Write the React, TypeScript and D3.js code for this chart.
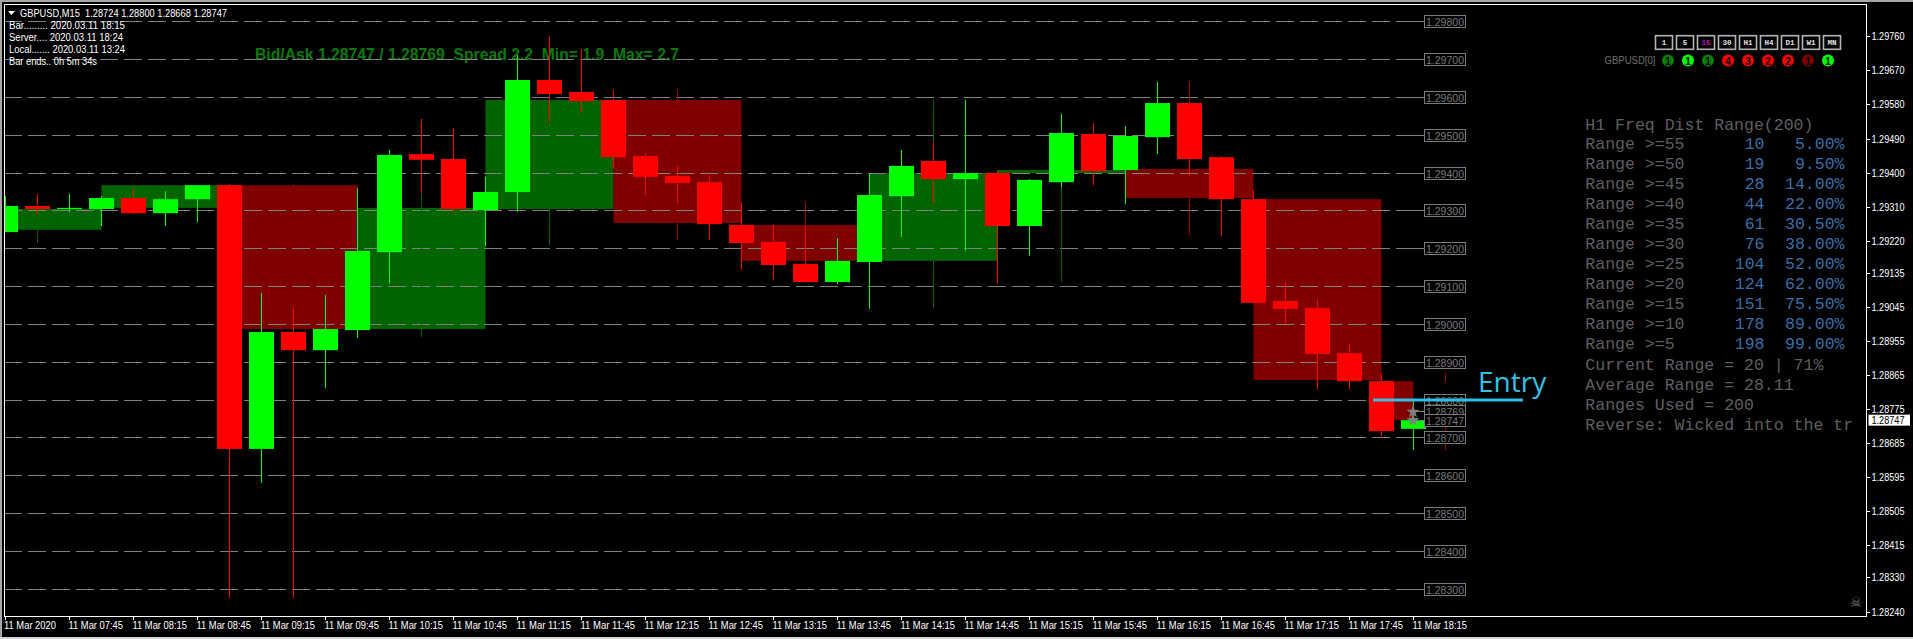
import React from "react";
import * as d3 from "d3";

const W = 1913, H = 639;
// M15 candles, first bar 07:15
const opens = [1.29244,1.29313,1.29305,1.29305,1.29334,1.29294,1.29331,1.29368,1.28671,1.28980,1.28932,1.28985,1.29191,1.29450,1.29437,1.29302,1.29350,1.29646,1.29614,1.29593,1.29445,1.29392,1.29376,1.29263,1.29218,1.29160,1.29112,1.29165,1.29339,1.29432,1.29384,1.29400,1.29260,1.29376,1.29503,1.29408,1.29495,1.29585,1.29442,1.29331,1.29062,1.29043,1.28924,1.28850,1.28724];
const highs = [1.29339,1.29345,1.29345,1.29339,1.29360,1.29352,1.29368,1.29371,1.29083,1.29046,1.29078,1.29360,1.29461,1.29543,1.29519,1.29390,1.29712,1.29760,1.29728,1.29620,1.29453,1.29419,1.29395,1.29321,1.29263,1.29255,1.29228,1.29398,1.29461,1.29482,1.29593,1.29408,1.29384,1.29556,1.29532,1.29524,1.29641,1.29585,1.29445,1.29355,1.29112,1.29065,1.28948,1.28869,1.28800];
const lows = [1.29244,1.29289,1.29297,1.29260,1.29292,1.29260,1.29271,1.28277,1.28581,1.28277,1.28832,1.28964,1.29109,1.29347,1.29297,1.29207,1.29297,1.29535,1.29559,1.29411,1.29342,1.29321,1.29223,1.29144,1.29117,1.29112,1.29107,1.29041,1.29231,1.29318,1.29194,1.29109,1.29181,1.29363,1.29368,1.29318,1.29450,1.29392,1.29234,1.29057,1.29001,1.28827,1.28827,1.28705,1.28668];
const closes = [1.29313,1.29305,1.29308,1.29334,1.29294,1.29331,1.29368,1.28671,1.28980,1.28932,1.28988,1.29194,1.29448,1.29435,1.29305,1.29350,1.29646,1.29609,1.29590,1.29442,1.29390,1.29374,1.29265,1.29215,1.29157,1.29112,1.29168,1.29342,1.29419,1.29384,1.29400,1.29260,1.29382,1.29506,1.29405,1.29498,1.29585,1.29437,1.29331,1.29057,1.29041,1.28922,1.28850,1.28718,1.28747];

// Darker wick fragments: candle, upper price, lower price, g/r
const darkIdx = [1,13,17,21,21,25,29,29,33,37,37,9,45,45];
const darkTop = [1.29289,1.29347,1.29308,1.29622,1.29268,1.29321,1.29593,1.29168,1.29363,1.29641,1.29337,1.29371,1.28872,1.28739];
const darkBot = [1.29215,1.28967,1.29210,1.29593,1.29223,1.29255,1.29482,1.29043,1.29112,1.29585,1.29236,1.29368,1.28848,1.28668];
const darkKind = ["g","g","g","r","r","r","g","g","g","r","r","r","r","r"];

// H1 blocks behind the M15 bars
const h1From = [-1,3,7,11,15,19,23,27,31,35,39,43];
const h1To = [3,7,11,15,19,23,27,31,35,39,43,44];
const h1Top = [1.29305,1.29368,1.29368,1.29308,1.29593,1.29593,1.29263,1.29400,1.29408,1.29411,1.29331,1.28850];
const h1Bot = [1.29250,1.29308,1.28988,1.28988,1.29305,1.29268,1.29168,1.29168,1.29400,1.29334,1.28853,1.28747];
const h1Kind = ["g","g","r","g","g","r","r","g","g","r","r","r"];

const gridLevels = [1.298,1.297,1.296,1.295,1.294,1.293,1.292,1.291,1.29,1.289,1.288,1.287,1.286,1.285,1.284,1.283];
const axisTicks = [1.2976,1.2967,1.2958,1.2949,1.294,1.2931,1.2922,1.29135,1.29045,1.28955,1.28865,1.28775,1.28685,1.28595,1.28505,1.28415,1.2833,1.2824];
const timeLabels = ["11 Mar 2020","11 Mar 07:45","11 Mar 08:15","11 Mar 08:45","11 Mar 09:15","11 Mar 09:45","11 Mar 10:15","11 Mar 10:45","11 Mar 11:15","11 Mar 11:45","11 Mar 12:15","11 Mar 12:45","11 Mar 13:15","11 Mar 13:45","11 Mar 14:15","11 Mar 14:45","11 Mar 15:15","11 Mar 15:45","11 Mar 16:15","11 Mar 16:45","11 Mar 17:15","11 Mar 17:45","11 Mar 18:15"];

const bid = 1.28747, ask = 1.28769, entryPrice = 1.288;
const entryFrom = 42.73, entryTo = 47.42, lastBar = 44;

const infoLines = ["Bar......... 2020.03.11 18:15","Server.... 2020.03.11 18:24","Local....... 2020.03.11 13:24","Bar ends.. 0h 5m 34s"];
const infoWidths = [116,114,116,88];
const tfNames = ["1","5","15","30","H1","H4","D1","W1","MN"];
const tfCounts = [1,1,1,4,3,2,2,1,1];
const tfColors = ["#0a7d0a","#00ff00","#0a7d0a","#ff0000","#ff0000","#ff0000","#ff0000","#800000","#00ff00"];
const rangeThresholds = [55,50,45,40,35,30,25,20,15,10,5];
const rangeCounts = [10,19,28,44,61,76,104,124,151,178,198];
const rangePct = ["5.00%","9.50%","14.00%","22.00%","30.50%","38.00%","52.00%","62.00%","75.50%","89.00%","99.00%"];
const panelFooter = ["Current Range = 20 | 71%","Average Range = 28.11","Ranges Used = 200","Reverse: Wicked into the tr"];

const x = d3.scaleLinear().domain([0, 1]).range([5.5, 37.5]);
const y = d3.scaleLinear().domain([1.283, 1.298]).range([589.3, 21.7]);
const cy = (p: number) => Math.floor(y(p)) + 0.5;
const BODY = 25;
const GREEN = "#00ff00", RED = "#ff0000", DG = "#006400", DR = "#800000";
const SANS = "'Liberation Sans', Arial, sans-serif";
const MONO = "'Liberation Mono', 'Courier New', monospace";
const GRAY = "#7a7a7a";
const PANEL = "#5f5f5f", BLUE = "#3b6ea8";

function T({ x, y, s = 10, fill = "#fff", len, anchor = "start", font = SANS, weight, children }: any) {
  return (
    <text x={x} y={y} fontSize={s} fill={fill} fontFamily={font} fontWeight={weight}
      textAnchor={anchor} dominantBaseline="central" style={{ whiteSpace: "pre" }}
      {...(len ? { textLength: len, lengthAdjust: "spacingAndGlyphs" } : {})}>
      {children}
    </text>
  );
}

const starPath = d3.symbol().type(d3.symbolStar).size(55)() as string;

export default function App() {
  return (
    <svg width={W} height={H} viewBox={`0 0 ${W} ${H}`} style={{ position: "fixed", left: 0, top: 0, display: "block", background: "#000" }}>
      <rect x={0} y={0} width={W} height={2} fill="#a6a6a6" />
      <rect x={0} y={0} width={2} height={H} fill="#a6a6a6" />
      <rect x={0} y={637} width={W} height={2} fill="#d4d4d4" />

      {/* H1 blocks */}
      <g clipPath="url(#plot)">
        {h1From.map((f, i) => (
          <rect key={i} x={Math.max(x(f), 4)} y={y(h1Top[i])} width={x(h1To[i]) - Math.max(x(f), 4)}
            height={y(h1Bot[i]) - y(h1Top[i])} fill={h1Kind[i] === "g" ? DG : DR} />
        ))}
      </g>
      <defs>
        <clipPath id="plot"><rect x={5} y={5} width={1861} height={611} /></clipPath>
      </defs>

      <T x={255} y={54} s={17} fill="#0b7a0b" weight="bold" len={424}>Bid/Ask 1.28747 / 1.28769  Spread 2.2  Min= 1.9  Max= 2.7</T>

      {/* grid */}
      {gridLevels.map((g) => (
        <g key={g}>
          <line x1={4} x2={1414} y1={cy(g)} y2={cy(g)} stroke="#808080" strokeDasharray="18 6" />
          <line x1={1396} x2={1425} y1={cy(g)} y2={cy(g)} stroke="#808080" />
        </g>
      ))}

      {/* candles */}
      <g clipPath="url(#plot)">
        {darkIdx.map((c, i) => (
          <line key={i} x1={x(c)} x2={x(c)} y1={y(darkTop[i])} y2={y(darkBot[i])}
            stroke={darkKind[i] === "g" ? DG : "#a00000"} />
        ))}
        {opens.map((o, i) => {
          const up = closes[i] >= o;
          const c = up ? GREEN : RED;
          const top = y(Math.max(o, closes[i])), bot = y(Math.min(o, closes[i]));
          return (
            <g key={i}>
              <line x1={x(i)} x2={x(i)} y1={y(highs[i])} y2={y(lows[i])} stroke={c} />
              <rect x={x(i) - BODY / 2} y={top} width={BODY} height={Math.max(bot - top, 1)} fill={c} />
            </g>
          );
        })}
      </g>

      {/* price tags */}
      {gridLevels.map((g) => (
        <g key={g}>
          <rect x={1424.5} y={cy(g) - 6} width={41} height={12} fill="#000" stroke={GRAY} />
          <T x={1426} y={cy(g) + 0.5} s={11} fill={GRAY} len={38}>{d3.format(".5f")(g)}</T>
        </g>
      ))}
      {[ask, bid].map((p) => (
        <g key={p}>
          <line x1={x(lastBar)} x2={1425} y1={cy(p)} y2={cy(p)} stroke="#808080" />
          <rect x={1424.5} y={cy(p) - 6} width={41} height={12} fill="#000" stroke={GRAY} />
          <T x={1426} y={cy(p) + 0.5} s={11} fill={GRAY} len={38}>{d3.format(".5f")(p)}</T>
          <path d={starPath} transform={`translate(${x(lastBar) - 0.5},${y(p)})`} fill="#808080" />
        </g>
      ))}

      {/* entry */}
      <line x1={x(entryFrom)} x2={x(entryTo)} y1={y(entryPrice)} y2={y(entryPrice)} stroke="#30c0e2" strokeWidth={3} />
      <T x={1478} y={381} s={28} fill="#35c1e2" font="'Open Sans', sans-serif">Entry</T>

      {/* header */}
      <path d={d3.line()([[8, 11], [15, 11], [11.5, 15]]) + "Z"} fill="#fff" />
      <T x={20} y={12.7} s={10.5} len={207}>GBPUSD,M15  1.28724 1.28800 1.28668 1.28747</T>
      {infoLines.map((t, i) => (
        <T key={i} x={9} y={25.5 + i * 12} s={10} len={infoWidths[i]}>{t}</T>
      ))}

      {/* timeframe block */}
      {tfNames.map((n, i) => {
        const bx = 1655.5 + i * 21;
        return (
          <g key={n}>
            <rect x={bx} y={35.7} width={17} height={13.6} fill="#000" stroke="#b4b4b4" strokeWidth={1.6} />
            <T x={bx + 8.5} y={42.7} s={7.5} anchor="middle" font={MONO} weight="bold" fill={n === "15" ? "#c010c0" : "#e0e0e0"}>{n}</T>
          </g>
        );
      })}
      <T x={1604.5} y={60.8} s={10} fill="#6f6f6f" len={51}>GBPUSD[0]</T>
      {tfCounts.map((n, i) => (
        <g key={i}>
          <circle cx={1668 + i * 20} cy={60.5} r={6} fill={tfColors[i]} />
          <T x={1668 + i * 20} y={61} s={10} anchor="middle" fill="#000" weight="bold">{n}</T>
        </g>
      ))}

      {/* frequency panel */}
      <T x={1585.3} y={125} s={16.55} font={MONO} fill={PANEL}>H1 Freq Dist Range(200)</T>
      {rangeThresholds.map((r, i) => {
        const ry = 144.8 + i * 20;
        return (
          <g key={r}>
            <T x={1585.3} y={ry} s={16.55} font={MONO} fill={PANEL}>{`Range >=${r}`}</T>
            <T x={1764.5} y={ry} s={16.55} font={MONO} fill={BLUE} anchor="end">{rangeCounts[i]}</T>
            <T x={1844.5} y={ry} s={16.55} font={MONO} fill={BLUE} anchor="end">{rangePct[i]}</T>
          </g>
        );
      })}
      {panelFooter.map((t, i) => (
        <T key={i} x={1585.3} y={365 + i * 20} s={16.55} font={MONO} fill={PANEL}>{t}</T>
      ))}

      {/* frame */}
      <rect x={4.5} y={4.5} width={1862} height={612} fill="none" stroke="#fff" />
      {axisTicks.map((t) => (
        <g key={t}>
          <line x1={1866} x2={1870} y1={cy(t)} y2={cy(t)} stroke="#fff" />
          <T x={1871.5} y={y(t)} s={10} len={33}>{d3.format(".5f")(t)}</T>
        </g>
      ))}
      <rect x={1868.5} y={y(bid) - 5.5} width={41.5} height={11} fill="#fff" />
      <T x={1871.5} y={y(bid)} s={10} fill="#000" len={33}>{d3.format(".5f")(bid)}</T>
      {timeLabels.map((t, i) => (
        <g key={t}>
          <line x1={x(i * 2)} x2={x(i * 2)} y1={616} y2={620} stroke="#fff" />
          <T x={i === 0 ? 4 : x(i * 2) - 1} y={625.7} s={10} len={i === 0 ? 52 : 54.5}>{t}</T>
        </g>
      ))}
      <T x={1856} y={601.5} s={14} fill="#7a7a7a" anchor="middle" font="'DejaVu Sans'">☠</T>
    </svg>
  );
}
